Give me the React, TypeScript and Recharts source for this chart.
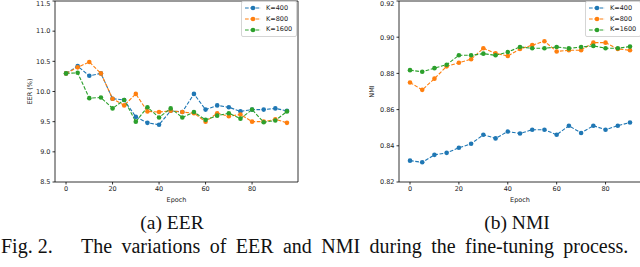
import { LineChart, Line, XAxis, YAxis, ReferenceArea } from "recharts";

// EER (%) per epoch
const eerEpochs = [0, 5, 10, 15, 20, 25, 30, 35, 40, 45, 50, 55, 60, 65, 70, 75, 80, 85, 90, 95];
const eerK400 = [10.3, 10.42, 10.26, 10.3, 9.88, 9.86, 9.58, 9.48, 9.45, 9.68, 9.66, 9.96, 9.7, 9.77, 9.74, 9.67, 9.7, 9.7, 9.72, 9.68];
const eerK800 = [10.3, 10.4, 10.49, 10.3, 9.88, 9.77, 9.96, 9.67, 9.66, 9.68, 9.66, 9.64, 9.5, 9.64, 9.59, 9.62, 9.5, 9.5, 9.54, 9.48];
const eerK1600 = [10.3, 10.31, 9.89, 9.9, 9.72, 9.86, 9.5, 9.74, 9.57, 9.72, 9.57, 9.66, 9.53, 9.6, 9.64, 9.55, 9.7, 9.49, 9.52, 9.67];
const eerTicks = [8.5, 9.0, 9.5, 10.0, 10.5, 11.0, 11.5];

// NMI per epoch, right panel
const nmiEpochs = [0, 5, 10, 15, 20, 25, 30, 35, 40, 45, 50, 55, 60, 65, 70, 75, 80, 85, 90];
const nmiK400 = [0.8318, 0.8309, 0.835, 0.8361, 0.8389, 0.8411, 0.8461, 0.8441, 0.8479, 0.8468, 0.8489, 0.8489, 0.8461, 0.8511, 0.8471, 0.8511, 0.8489, 0.8511, 0.8529];
const nmiK800 = [0.875, 0.8709, 0.8771, 0.8839, 0.8859, 0.8878, 0.8939, 0.8911, 0.8896, 0.8935, 0.8956, 0.8978, 0.8921, 0.8928, 0.8928, 0.897, 0.897, 0.8935, 0.8928];
const nmiK1600 = [0.8818, 0.8809, 0.8829, 0.8848, 0.89, 0.89, 0.8909, 0.89, 0.8918, 0.8946, 0.8939, 0.8939, 0.8946, 0.8938, 0.8946, 0.8952, 0.8939, 0.8939, 0.8948];
const nmiTicks = [0.82, 0.84, 0.86, 0.88, 0.9, 0.92];

const epochTicks = [0, 20, 40, 60, 80];
const seriesNames = ["K=400", "K=800", "K=1600"];
const colors = ["#1f77b4", "#ff7f0e", "#2ca02c"];

const eerData = eerEpochs.map((e, i) => ({ epoch: e, k400: eerK400[i], k800: eerK800[i], k1600: eerK1600[i] }));
const nmiData = nmiEpochs.map((e, i) => ({ epoch: e, k400: nmiK400[i], k800: nmiK800[i], k1600: nmiK1600[i] }));
const keys = ["k400", "k800", "k1600"];

const tickFont = { fontFamily: "DejaVu Sans", fontSize: 6.5, fill: "#222" };

function LegendBox({ style }: { style: React.CSSProperties }) {
  return (
    <div
      style={{
        position: "absolute",
        background: "rgba(255,255,255,0.85)",
        border: "1px solid #d5d5d5",
        borderRadius: 2,
        padding: "1px 4px 1px 3px",
        fontFamily: "DejaVu Sans",
        fontSize: 6.5,
        lineHeight: "10.7px",
        color: "#222",
        ...style,
      }}
    >
      {seriesNames.map((n, i) => (
        <div key={n} style={{ display: "flex", alignItems: "center" }}>
          <svg width={16} height={6}>
            <line x1={0} x2={16} y1={3} y2={3} stroke={colors[i]} strokeWidth={1} strokeDasharray="3.7 1.6" />
            <circle cx={8} cy={3} r={2.3} fill={colors[i]} />
          </svg>
          <span style={{ marginLeft: 5 }}>{n}</span>
        </div>
      ))}
    </div>
  );
}

type PanelProps = {
  data: any[];
  width: number;
  marginLeft: number;
  xDomain: [number, number];
  yDomain: [number, number];
  yTicks: number[];
  digits: number;
  yLabel: string;
  yLabelOffset: number;
};

function Panel(p: PanelProps) {
  return (
    <LineChart
      width={p.width}
      height={210}
      data={p.data}
      margin={{ top: 1, right: 2, bottom: 8, left: p.marginLeft }}
    >
      <XAxis
        dataKey="epoch"
        type="number"
        domain={p.xDomain}
        ticks={epochTicks}
        allowDataOverflow
        height={20}
        axisLine={false}
        tickSize={2.5}
        tickMargin={2}
        tickLine={{ stroke: "#000", strokeWidth: 0.8 }}
        tick={tickFont}
        label={{ value: "Epoch", position: "insideBottom", offset: 0, style: tickFont }}
      />
      <YAxis
        type="number"
        domain={p.yDomain}
        ticks={p.yTicks}
        allowDataOverflow
        width={40}
        axisLine={false}
        tickSize={2.5}
        tickMargin={2}
        tickLine={{ stroke: "#000", strokeWidth: 0.8 }}
        tick={tickFont}
        tickFormatter={(v: number) => v.toFixed(p.digits)}
        label={{
          value: p.yLabel,
          angle: -90,
          position: "insideLeft",
          offset: p.yLabelOffset,
          style: { ...tickFont, textAnchor: "middle" },
        }}
      />
      <ReferenceArea
        x1={p.xDomain[0]}
        x2={p.xDomain[1]}
        y1={p.yDomain[0]}
        y2={p.yDomain[1]}
        fill="none"
        stroke="#000"
        strokeWidth={0.8}
        ifOverflow="visible"
      />
      {keys.map((k, i) => (
        <Line
          key={k}
          dataKey={k}
          type="linear"
          stroke={colors[i]}
          strokeWidth={1.1}
          strokeDasharray="3.7 1.6"
          dot={{ r: 2.3, fill: colors[i], stroke: colors[i], strokeWidth: 0, strokeDasharray: "none" }}
          isAnimationActive={false}
        />
      ))}
    </LineChart>
  );
}

export default function App() {
  return (
    <div
      style={{
        position: "fixed",
        left: 0,
        top: 0,
        width: 640,
        height: 267,
        overflow: "hidden",
        background: "#fff",
      }}
    >
      <div style={{ position: "absolute", left: 0, top: 0 }}>
        <Panel
          data={eerData}
          width={300}
          marginLeft={15}
          xDomain={[-4.75, 99.75]}
          yDomain={[8.5, 11.5]}
          yTicks={eerTicks}
          digits={1}
          yLabel="EER (%)"
          yLabelOffset={15}
        />
      </div>
      <div style={{ position: "absolute", left: 320, top: 0 }}>
        <Panel
          data={nmiData}
          width={323}
          marginLeft={39}
          xDomain={[-4.5, 94.5]}
          yDomain={[0.82, 0.92]}
          yTicks={nmiTicks}
          digits={2}
          yLabel="NMI"
          yLabelOffset={13}
        />
      </div>
      <LegendBox style={{ left: 241, top: 1 }} />
      <LegendBox style={{ left: 585, top: 1 }} />
      <svg
        width={640}
        height={267}
        style={{ position: "absolute", left: 0, top: 0, pointerEvents: "none" }}
      >
        <g fontFamily="'Liberation Serif', 'Times New Roman', serif" fill="#111">
          <text x={172} y={229} textAnchor="middle" fontSize={19.5}>(a) EER</text>
          <text x={517} y={229} textAnchor="middle" fontSize={19.5}>(b) NMI</text>
          <text x={1} y={253} fontSize={20}>Fig. 2.</text>
          <text x={81} y={253} fontSize={20} style={{ wordSpacing: 4.4 }}>
            The variations of EER and NMI during the fine-tuning process.
          </text>
        </g>
      </svg>
    </div>
  );
}
